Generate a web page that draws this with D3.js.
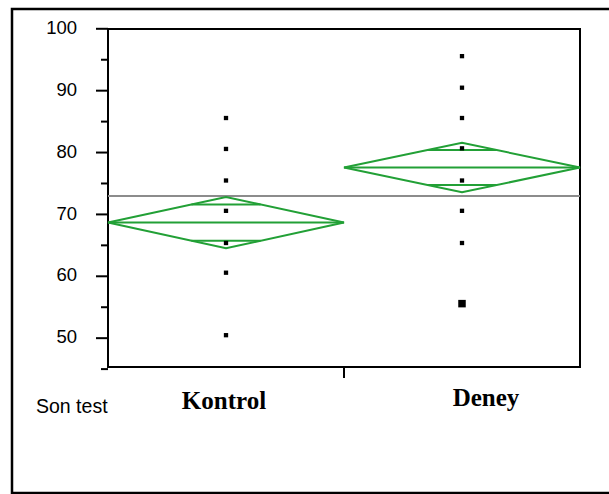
<!DOCTYPE html>
<html>
<head>
<meta charset="utf-8">
<script src="https://cdn.jsdelivr.net/npm/d3@7"></script>
<style>
  body { margin: 0; background: #fff; }
  svg { display: block; }
</style>
</head>
<body>
<div id="chart"></div>
<script>
// data
const groups = ['Kontrol', 'Deney'];
const kontrolScores = [85.5, 80.5, 75.4, 70.5, 65.3, 60.5, 50.4];
const kontrolCounts = [1, 1, 1, 1, 1, 1, 1];
const deneyScores = [95.5, 90.4, 85.5, 80.6, 75.4, 70.5, 65.3, 55.5];
const deneyCounts = [1, 1, 1, 1, 1, 1, 1, 2];
const groupMeans = [68.6, 77.5];
const groupCI = [4.15, 4.0];
const grandMean = 72.9;
const majorTicks = [50, 60, 70, 80, 90, 100];
const minorTicks = [45, 55, 65, 75, 85, 95];

const width = 609;
const height = 494;
const boxLeft = 108, boxRight = 580, boxTop = 29, boxBottom = 367;
const green = '#22a036';

const svg = d3.select('#chart')
  .append('svg')
  .attr('width', width)
  .attr('height', height);

// outer frame (right side runs off the page)
svg.append('path')
  .attr('d', `M${width + 5},9 H12 V493 H${width + 5}`)
  .attr('fill', 'none')
  .attr('stroke', '#000')
  .attr('stroke-width', 2.5);

const y = d3.scaleLinear()
  .domain([45, 100])
  .range([368.6, 28.3]);

const x = d3.scaleBand()
  .domain(groups)
  .range([boxLeft, boxRight]);

// plot box
svg.append('rect')
  .attr('x', boxLeft)
  .attr('y', boxTop)
  .attr('width', boxRight - boxLeft)
  .attr('height', boxBottom - boxTop)
  .attr('fill', 'none')
  .attr('stroke', '#000')
  .attr('stroke-width', 2);

// y axis major + minor ticks
const yAxis = svg.append('g')
  .attr('transform', `translate(${boxLeft},0)`)
  .call(d3.axisLeft(y).tickValues(majorTicks).tickSize(12).tickPadding(19));
yAxis.select('.domain').remove();
yAxis.selectAll('line').attr('stroke', '#000').attr('stroke-width', 2);
yAxis.selectAll('text')
  .attr('font-family', 'Liberation Sans, Arial, sans-serif')
  .attr('font-size', 18.5)
  .attr('fill', '#000')
  .attr('dy', '0.28em');

const yMinor = svg.append('g')
  .attr('transform', `translate(${boxLeft},0)`)
  .call(d3.axisLeft(y).tickValues(minorTicks).tickSize(7).tickFormat(''));
yMinor.select('.domain').remove();
yMinor.selectAll('line').attr('stroke', '#000').attr('stroke-width', 2);

// x axis: one tick between the groups
svg.append('line')
  .attr('x1', x('Deney')).attr('x2', x('Deney'))
  .attr('y1', boxBottom).attr('y2', 378)
  .attr('stroke', '#000')
  .attr('stroke-width', 2);

// grand mean
svg.append('line')
  .attr('x1', boxLeft).attr('x2', boxRight)
  .attr('y1', y(grandMean)).attr('y2', y(grandMean))
  .attr('stroke', '#8c8c8c')
  .attr('stroke-width', 2);

// mean diamonds
const diamonds = groups.map((g, i) => ({ g, m: groupMeans[i], ci: groupCI[i] }));
const dg = svg.append('g')
  .attr('fill', 'none')
  .attr('stroke', green)
  .attr('stroke-width', 2);

diamonds.forEach(d => {
  const x0 = x(d.g), x1 = x(d.g) + x.bandwidth(), xc = (x0 + x1) / 2;
  const half = x.bandwidth() / 2;
  dg.append('path')
    .attr('d', `M${x0},${y(d.m)} L${xc},${y(d.m + d.ci)} L${x1},${y(d.m)} L${xc},${y(d.m - d.ci)} Z`);
  dg.append('line')
    .attr('x1', x0).attr('x2', x1)
    .attr('y1', y(d.m)).attr('y2', y(d.m));
  const k = Math.SQRT1_2;
  const w = half * (1 - k);
  [d.m + d.ci * k, d.m - d.ci * k].forEach(v => {
    dg.append('line')
      .attr('x1', xc - w).attr('x2', xc + w)
      .attr('y1', y(v)).attr('y2', y(v));
  });
});

// points
const pts = [];
kontrolScores.forEach((v, i) => pts.push({ g: 'Kontrol', v, n: kontrolCounts[i] }));
deneyScores.forEach((v, i) => pts.push({ g: 'Deney', v, n: deneyCounts[i] }));

svg.selectAll('rect.pt')
  .data(pts)
  .enter()
  .append('rect')
  .attr('class', 'pt')
  .attr('width', d => d.n > 1 ? 7.5 : 4.3)
  .attr('height', d => d.n > 1 ? 7.5 : 4.3)
  .attr('x', d => x(d.g) + x.bandwidth() / 2 - (d.n > 1 ? 3.75 : 2.15))
  .attr('y', d => y(d.v) - (d.n > 1 ? 3.75 : 2.15))
  .attr('fill', '#000');

// group labels
const labelDx = [-2, 24];
const labelY = [409, 406];
svg.selectAll('text.grp')
  .data(groups)
  .enter()
  .append('text')
  .attr('class', 'grp')
  .attr('x', (d, i) => x(d) + x.bandwidth() / 2 + labelDx[i])
  .attr('y', (d, i) => labelY[i])
  .attr('text-anchor', 'middle')
  .attr('font-family', 'Liberation Serif, Times New Roman, serif')
  .attr('font-weight', 'bold')
  .attr('font-size', 25)
  .text(d => d);

svg.append('text')
  .attr('x', 36)
  .attr('y', 413)
  .attr('font-family', 'Liberation Sans, Arial, sans-serif')
  .attr('font-size', 19.5)
  .text('Son test');
</script>
</body>
</html>
